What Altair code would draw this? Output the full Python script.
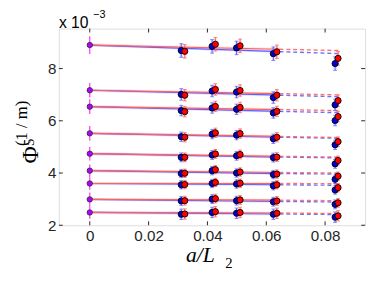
import altair as alt
import pandas as pd

# ---- data (values in units of 1e-3) ----
x_blue = [0.0311, 0.0416, 0.0499, 0.0624, 0.0834]
x_red = [0.0323, 0.0427, 0.0511, 0.0636, 0.0844]

phi_zero = [8.90, 7.17, 6.54, 5.52, 4.74, 4.09, 3.60, 2.99, 2.49]
phi_zero_err = [0.34, 0.28, 0.28, 0.28, 0.26, 0.24, 0.24, 0.26, 0.24]

blue_vals = [
    [8.69, 8.85, 8.79, 8.57, 8.19],
    [7.01, 7.14, 7.10, 6.89, 6.61],
    [6.39, 6.49, 6.44, 6.30, 6.01],
    [5.39, 5.49, 5.45, 5.31, 5.08],
    [4.60, 4.69, 4.66, 4.59, 4.35],
    [3.98, 4.09, 4.00, 3.94, 3.76],
    [3.55, 3.60, 3.58, 3.51, 3.35],
    [2.93, 3.00, 2.94, 2.90, 2.80],
    [2.42, 2.49, 2.46, 2.42, 2.31],
]
red_vals = [
    [8.66, 8.93, 8.87, 8.64, 8.39],
    [6.98, 7.20, 7.16, 6.98, 6.77],
    [6.35, 6.55, 6.51, 6.36, 6.16],
    [5.37, 5.54, 5.51, 5.37, 5.20],
    [4.60, 4.73, 4.71, 4.61, 4.48],
    [3.99, 4.13, 4.04, 3.96, 3.88],
    [3.56, 3.64, 3.61, 3.55, 3.44],
    [2.94, 3.02, 2.97, 2.93, 2.86],
    [2.43, 2.52, 2.49, 2.46, 2.36],
]
blue_err = [0.26, 0.22, 0.20, 0.18, 0.17, 0.16, 0.16, 0.17, 0.20]
red_err = [0.26, 0.22, 0.20, 0.18, 0.17, 0.16, 0.16, 0.17, 0.20]

x_knee = 0.0645
x_end = 0.0845
blue_mid = [8.65, 6.98, 6.36, 5.37, 4.61, 3.98, 3.55, 2.91, 2.43]
blue_end = [8.57, 6.92, 6.31, 5.33, 4.58, 3.96, 3.53, 2.89, 2.41]
red_mid = [8.74, 7.04, 6.43, 5.40, 4.64, 4.02, 3.60, 2.96, 2.47]
red_end = [8.69, 6.99, 6.39, 5.36, 4.61, 4.00, 3.59, 2.94, 2.45]

x_ticks = [0, 0.02, 0.04, 0.06, 0.08]
y_ticks = [2, 4, 6, 8]
x_domain = [-0.0105, 0.0936]
y_domain = [2, 9.53]

W, H = 313, 201

# ---- tables ----
pts = []
for grp, xs, vals, errs in (("blue", x_blue, blue_vals, blue_err),
                            ("red", x_red, red_vals, red_err)):
    for s in range(len(vals)):
        for j in range(len(xs)):
            v = vals[s][j]
            pts.append(dict(grp=grp, s=s, x=xs[j], y=v,
                            lo=v - errs[s], hi=v + errs[s]))
pts = pd.DataFrame(pts)

zero = pd.DataFrame(dict(x=[0.0] * len(phi_zero), y=phi_zero,
                         lo=[a - b for a, b in zip(phi_zero, phi_zero_err)],
                         hi=[a + b for a, b in zip(phi_zero, phi_zero_err)]))

solid, dashed = [], []
for grp, mid, end in (("blue", blue_mid, blue_end), ("red", red_mid, red_end)):
    for s in range(len(phi_zero)):
        key = f"{grp}{s}"
        solid += [dict(grp=grp, key=key, x=0.0, y=phi_zero[s]),
                  dict(grp=grp, key=key, x=x_knee, y=mid[s])]
        dashed += [dict(grp=grp, key=key, x=x_knee, y=mid[s]),
                   dict(grp=grp, key=key, x=x_end, y=end[s])]
solid = pd.DataFrame(solid)
dashed = pd.DataFrame(dashed)

xt = pd.DataFrame(dict(x=x_ticks))
yt = pd.DataFrame(dict(y=y_ticks))

# ---- scales / axes ----
xs_ = alt.Scale(domain=x_domain, nice=False, zero=False)
ys_ = alt.Scale(domain=y_domain, nice=False, zero=False)
xaxis = alt.Axis(values=x_ticks, format="~g", title=None, grid=False, domain=False,
                 tickSize=0, labelPadding=4, labelFont="Liberation Sans",
                 labelFontSize=15.5, labelColor="#262626")
yaxis = alt.Axis(values=y_ticks, format="d", title=None, grid=False, domain=False,
                 tickSize=0, labelPadding=3, labelFont="Liberation Sans",
                 labelFontSize=15.5, labelColor="#262626")


def X(f="x"):
    return alt.X(f"{f}:Q", scale=xs_, axis=xaxis)


def Y(f="y"):
    return alt.Y(f"{f}:Q", scale=ys_, axis=yaxis)


col = alt.Color("grp:N", scale=alt.Scale(domain=["blue", "red"],
                                         range=["#0000ff", "#ff0000"]), legend=None)
halo = alt.Color("grp:N", scale=alt.Scale(domain=["blue", "red"],
                                          range=["#6060ff", "#ff6060"]), legend=None)
fillc = alt.Fill("grp:N", scale=alt.Scale(domain=["blue", "red"],
                                          range=["#0000dd", "#ff0000"]), legend=None)

band = alt.Chart(solid).mark_line(strokeWidth=3, opacity=0.15).encode(
    x=X(), y=Y(), color=halo, detail="key:N")
line = alt.Chart(solid).mark_line(strokeWidth=1.2).encode(
    x=X(), y=Y(), color=col, detail="key:N")
dash = alt.Chart(dashed).mark_line(strokeWidth=1.4, strokeDash=[4, 3], opacity=0.9).encode(
    x=X(), y=Y(), color=col, detail="key:N")

err_halo = alt.Chart(pts).mark_rule(strokeWidth=3, opacity=0.2).encode(
    x=X(), y=Y("lo"), y2="hi:Q", color=halo)
err = alt.Chart(pts).mark_rule(strokeWidth=1).encode(
    x=X(), y=Y("lo"), y2="hi:Q", color=col)
cap_lo = alt.Chart(pts).mark_tick(orient="horizontal", size=4, thickness=1).encode(
    x=X(), y=Y("lo"), color=col)
cap_hi = alt.Chart(pts).mark_tick(orient="horizontal", size=4, thickness=1).encode(
    x=X(), y=Y("hi"), color=col)
dots = alt.Chart(pts).mark_circle(size=40, opacity=1, stroke="black", strokeWidth=0.9).encode(
    x=X(), y=Y(), fill=fillc, order=alt.Order("grp:N"))

z_err = alt.Chart(zero).mark_rule(strokeWidth=1.2, color="#ff33ff").encode(
    x=X(), y=Y("lo"), y2="hi:Q")
z_dot = alt.Chart(zero).mark_circle(size=30, opacity=1, fill="#b400ff",
                                    stroke="#333333", strokeWidth=0.9).encode(x=X(), y=Y())

tick_b = alt.Chart(xt).mark_rule(color="#262626").encode(
    x=X(), y=alt.value(H), y2=alt.value(H - 4))
tick_t = alt.Chart(xt).mark_rule(color="#262626").encode(
    x=X(), y=alt.value(0), y2=alt.value(4))
tick_l = alt.Chart(yt).mark_rule(color="#262626").encode(
    y=Y(), x=alt.value(0), x2=alt.value(4))
tick_r = alt.Chart(yt).mark_rule(color="#262626").encode(
    y=Y(), x=alt.value(W), x2=alt.value(W - 4))

txt = pd.DataFrame(dict(t=[0]))


def label(text, x, y, size, font="Liberation Sans", style="normal", angle=0,
          align="left", baseline="alphabetic"):
    return alt.Chart(txt).mark_text(text=text, font=font, fontSize=size, fontStyle=style,
                                    angle=angle, align=align, baseline=baseline,
                                    color="black").encode(x=alt.value(x), y=alt.value(y))


titles = [
    label("x 10", 0, -1, 16),
    label("\u22123", 35, -11, 11),
    label("a/L", 130, 239, 22, font="Liberation Serif", style="italic"),
    label("2", 170, 245, 15, font="Liberation Serif"),
    label("\u03a6", -21, 138, 24, font="Liberation Serif", angle=270),
    label("5", -25, 120, 15, font="Liberation Serif", angle=270),
    label("(1 / m)", -33, 120, 17, font="Liberation Serif", angle=270),
]

chart = alt.layer(
    band, line, dash, err_halo, err, cap_lo, cap_hi, dots, z_err, z_dot,
    tick_b, tick_t, tick_l, tick_r, *titles
).properties(
    width=W, height=H,
    autosize=alt.AutoSizeParams(type="none"),
    padding={"left": 52, "top": 18, "right": 5, "bottom": 57},
).configure_view(stroke="#262626", strokeWidth=1).configure(background="white")

chart.save("out.html", embed_options={"renderer": "svg", "actions": False})
